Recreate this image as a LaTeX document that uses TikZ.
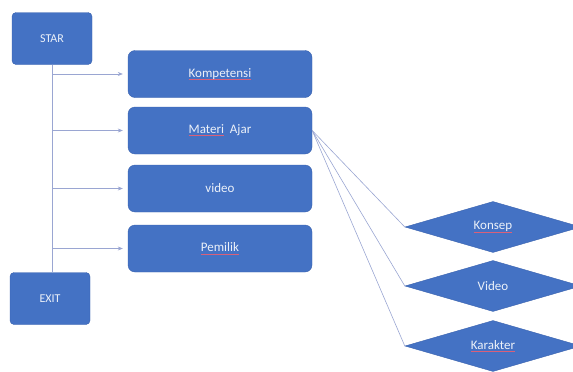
\documentclass[tikz,border=0pt]{standalone}
\usepackage{fontspec}
\setmainfont{Carlito}
\usetikzlibrary{shapes.geometric,arrows.meta}
\definecolor{boxblue}{HTML}{4472C4}
\definecolor{boxedge}{HTML}{3A62AE}
\definecolor{linkline}{HTML}{9AA6D2}
\definecolor{spellred}{HTML}{D9607A}
% spell-check style underline
\newlength\squigwd
\newcommand\squig[1]{\settowidth{\squigwd}{#1}\makebox[0pt][l]{\color{spellred}\rule[-2.6pt]{\squigwd}{0.8pt}}#1}
\tikzset{
  endbox/.style={shape=rectangle,rounded corners=4pt,fill=boxblue,draw=boxedge,text=white!90!boxblue,minimum width=80pt,minimum height=52pt,font=\fontsize{12}{14}\selectfont},
  menubox/.style={shape=rectangle,rounded corners=7pt,fill=boxblue,draw=boxedge,text=white!90!boxblue,minimum width=184pt,minimum height=47pt,font=\fontsize{13}{15}\selectfont},
  subbox/.style={shape=diamond,fill=boxblue,draw=boxedge,text=white!90!boxblue,minimum width=176pt,minimum height=51pt,aspect=3.45,inner sep=0pt,font=\fontsize{13}{15}\selectfont},
  link/.style={draw=linkline,line width=0.6pt},
  feed/.style={link,-{Stealth[length=5pt,width=4pt]},shorten >=5pt}
}
\begin{document}
\begin{tikzpicture}[x=1pt,y=-1pt]
\useasboundingbox (0,0) rectangle (573,372);
\node[endbox] (S) at (52,38.5) {STAR};
\node[endbox] (X) at (50,298.5) {EXIT};
\node[menubox] (K) at (220,74) {\squig{Kompetensi}};
\node[menubox] (M) at (220,130.5) {\squig{Materi}~~Ajar};
\node[menubox] (V) at (220,188.5) {video};
\node[menubox] (P) at (220,248.5) {\squig{Pemilik}};
\node[subbox] (KS) at (493,227) {\squig{Konsep}};
\node[subbox] (VD) at (493,286) {Video};
\node[subbox] (KR) at (493,346) {\squig{Karakter}};

\draw[link] (S.south) -- (S.south |- X.north);
\draw[feed] (S.south |- K) -- (K.west);
\draw[feed] (S.south |- M) -- (M.west);
\draw[feed] (S.south |- V) -- (V.west);
\draw[feed] (S.south |- P) -- (P.west);
\draw[link] (M.east) -- (KS.west);
\draw[link] (M.east) -- (VD.west);
\draw[link] (M.east) -- (KR.west);
\end{tikzpicture}
\end{document}
